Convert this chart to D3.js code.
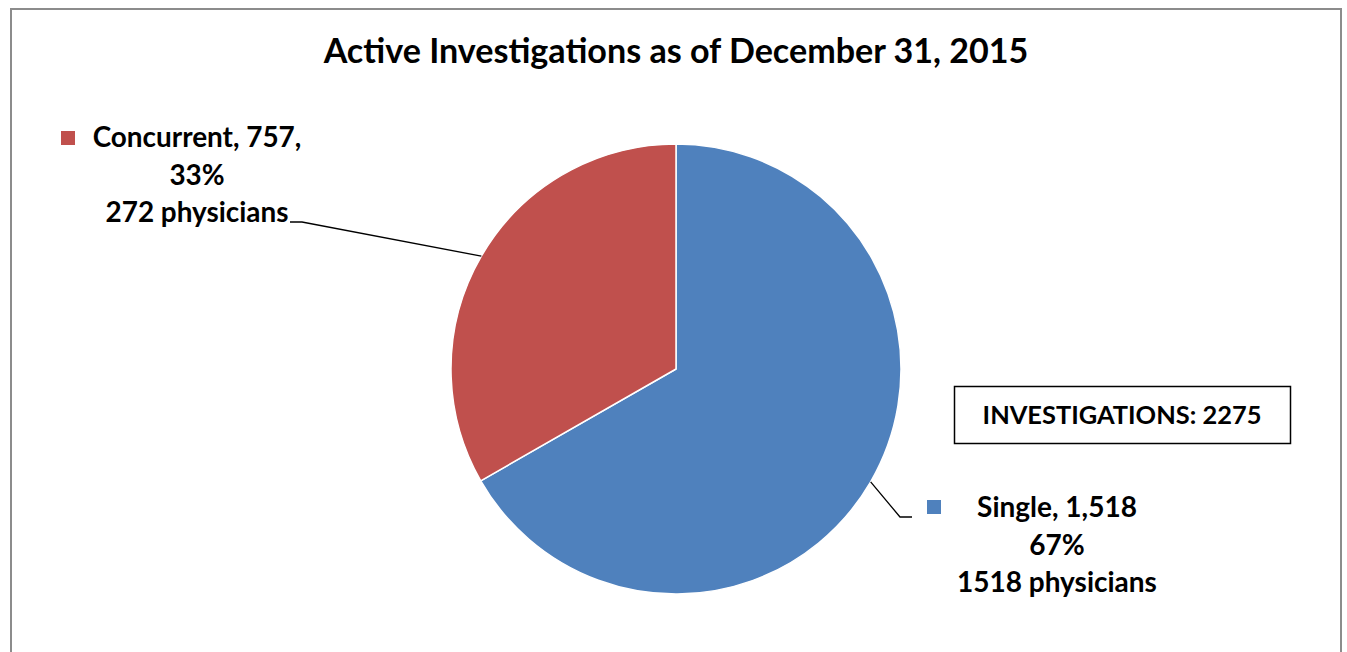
<!DOCTYPE html>
<html>
<head>
<meta charset="utf-8">
<script src="https://cdn.jsdelivr.net/npm/d3@7"></script>
<style>
  html, body { margin: 0; padding: 0; background: #fff; }
  svg { display: block; }
  text { font-family: Lato, "Open Sans", sans-serif; font-weight: bold; fill: #000; }
</style>
</head>
<body>
<svg id="chart" width="1347" height="652"></svg>
<script>
// Data
const categories = ["Single", "Concurrent"];
const values = [1518, 757];
const physicians = [1518, 272];
const totalLabel = "INVESTIGATIONS: 2275";
const title = "Active Investigations as of December 31, 2015";
const colors = ["#4F81BD", "#C0504D"];

const W = 1347, H = 652;
const svg = d3.select("#chart");

// Chart frame (bottom edge runs past the page)
svg.append("rect")
  .attr("x", 11).attr("y", 9)
  .attr("width", 1330).attr("height", 700)
  .attr("fill", "#fff")
  .attr("stroke", "#8c8c8c").attr("stroke-width", 2);

// Fit a text element's font size so that it spans the given width
function fitWidth(sel, target) {
  sel.style("font-size", "100px");
  const w = sel.node().getComputedTextLength();
  sel.style("font-size", (100 * target / w) + "px");
  return sel;
}

// Title
fitWidth(svg.append("text")
  .attr("x", 676).attr("y", 63)
  .attr("text-anchor", "middle")
  .text(title), 705);

// Pie
const cx = 676, cy = 369, R = 225;
const pie = d3.pie().sort(null).value(d => d)
  .startAngle(0).endAngle(2 * Math.PI);
const arcs = pie(values);
const arc = d3.arc().innerRadius(0).outerRadius(R);
const g = svg.append("g").attr("transform", `translate(${cx},${cy})`);
g.selectAll("path").data(arcs).join("path")
  .attr("d", arc)
  .attr("fill", (d, i) => colors[i])
  .attr("stroke", "#fff").attr("stroke-width", 1.5)
  .attr("stroke-linejoin", "round");

const total = d3.sum(values);
const fmt = d3.format(",");
const pct = v => Math.round(100 * v / total) + "%";

// Point on the rim at the middle of a slice
function rimPoint(a) {
  const m = (a.startAngle + a.endAngle) / 2;
  return [cx + R * Math.sin(m), cy - R * Math.cos(m)];
}

// Data label blocks: legend key, three centred lines, leader line
const labelSpecs = [
  { i: 0, cx: 1057, y0: 517, lines: d => [`${categories[0]}, ${fmt(values[0])}`, pct(values[0]), `${physicians[0]} physicians`],
    widthRef: 2, widthTarget: 200, key: [927, 500], elbow: [900, 517], tail: 912, keyRight: true },
  { i: 1, cx: 197, y0: 147, lines: d => [`${categories[1]}, ${fmt(values[1])},`, pct(values[1]), `${physicians[1]} physicians`],
    widthRef: 2, widthTarget: 183, key: [61, 131], elbow: [302, 222], tail: 290 }
];

const lineGap = 37.5;
labelSpecs.forEach(s => {
  const lines = s.lines();
  const tg = svg.append("g");
  const texts = lines.map((t, k) => tg.append("text")
    .attr("x", s.cx).attr("y", s.y0 + k * lineGap)
    .attr("text-anchor", "middle").text(t));
  // size all lines from one reference line
  fitWidth(texts[s.widthRef], s.widthTarget);
  const fs = texts[s.widthRef].style("font-size");
  texts.forEach(t => t.style("font-size", fs));

  // legend key square
  svg.append("rect")
    .attr("x", s.key[0]).attr("y", s.key[1])
    .attr("width", 14).attr("height", 14)
    .attr("fill", colors[s.i]);

  // leader line
  const p = rimPoint(arcs[s.i]);
  svg.append("polyline")
    .attr("points", [p, s.elbow, [s.tail, s.elbow[1]]].map(q => q.join(",")).join(" "))
    .attr("fill", "none").attr("stroke", "#000").attr("stroke-width", 1.3);
});

// Total box
svg.append("rect")
  .attr("x", 954.5).attr("y", 386.5)
  .attr("width", 336).attr("height", 57)
  .attr("fill", "#fff").attr("stroke", "#000").attr("stroke-width", 1.5);
fitWidth(svg.append("text")
  .attr("x", 1122).attr("y", 424)
  .attr("text-anchor", "middle")
  .text(totalLabel), 279);
</script>
</body>
</html>
